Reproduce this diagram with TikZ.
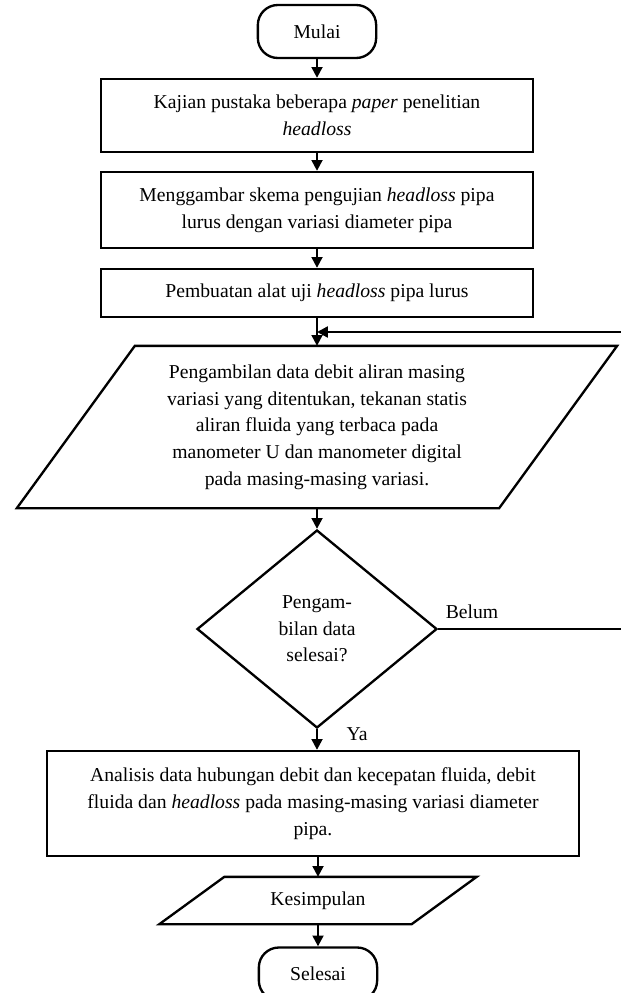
\documentclass[tikz,border=0pt]{standalone}
\usepackage{fontspec}
\setmainfont{Liberation Serif}
\usetikzlibrary{shapes.geometric, arrows.meta}

\tikzset{
    terminal/.style={draw, rounded corners=12pt, minimum width=71pt, minimum height=31.8pt, inner sep=0pt},
    proses/.style={draw, align=center, inner sep=0pt},
    masukan/.style={align=center, inner sep=0pt},
    keputusan/.style={draw, diamond, align=center, inner sep=0pt, minimum width=144pt, minimum height=118.8pt},
    panah/.style={-{Triangle[length=6.5pt, width=6.5pt]}},
}

\begin{document}
\begin{tikzpicture}[x=0.6pt, y=-0.6pt, line width=1.4pt, font=\fontsize{11.8}{16}\selectfont]
    \useasboundingbox (0,0) rectangle (621,993);

    % draw start and process boxes
    \node[terminal] (mulai) at (317,31.5) {Mulai};
    \node[proses, minimum width=259.2pt, minimum height=43.8pt] (kajian) at (317,115.5)
        {Kajian pustaka beberapa \emph{paper} penelitian\\ \emph{headloss}};
    \node[proses, minimum width=259.2pt, minimum height=45.6pt] (skema) at (317,210)
        {Menggambar skema pengujian \emph{headloss} pipa\\ lurus dengan variasi diameter pipa};
    \node[proses, minimum width=259.2pt, minimum height=28.8pt] (alat) at (317,293)
        {Pembuatan alat uji \emph{headloss} pipa lurus};

    % draw data input parallelogram
    \node[masukan, minimum width=288pt, minimum height=96pt] (data) at (317,427)
        {Pengambilan data debit aliran masing\\ variasi yang ditentukan, tekanan statis\\
         aliran fluida yang terbaca pada\\ manometer U dan manometer digital\\
         pada masing-masing variasi.};
    \draw ([xshift=35.4pt]data.north west) -- ([xshift=35.4pt]data.north east)
        -- ([xshift=-35.4pt]data.south east) -- ([xshift=-35.4pt]data.south west) -- cycle;

    % draw decision
    \node[keputusan] (cek) at (317,629) {Pengam-\\ bilan data\\ selesai?};

    % draw analysis box
    \node[proses, minimum width=319.2pt, minimum height=63pt] (analisis) at (313,803.5)
        {Analisis data hubungan debit dan kecepatan fluida, debit\\
         fluida dan \emph{headloss} pada masing-masing variasi diameter\\ pipa.};

    % draw conclusion parallelogram and end
    \node[masukan, minimum width=150pt, minimum height=27pt] (kesimpulan) at (318,900.5) {Kesimpulan};
    \draw ([xshift=19.5pt]kesimpulan.north west) -- ([xshift=19.5pt]kesimpulan.north east)
        -- ([xshift=-19.5pt]kesimpulan.south east) -- ([xshift=-19.5pt]kesimpulan.south west) -- cycle;
    \node[terminal] (selesai) at (318,974) {Selesai};

    % draw labels
    \node (belum) at (472,612) {Belum};
    \node (ya) at (357,734) {Ya};

    % draw arrows
    \draw[panah] (mulai.south) -- (kajian.north);
    \draw[panah] (kajian.south) -- (skema.north);
    \draw[panah] (skema.south) -- (alat.north);
    \draw[panah] (alat.south) -- (data.north);
    \draw[panah] (data.south) -- (cek.north);
    \draw[panah] (cek.south) -- (cek.south |- analisis.north);
    \draw[panah] (analisis.south -| kesimpulan.north) -- (kesimpulan.north);
    \draw[panah] (kesimpulan.south) -- (selesai.north);

    % draw loop back
    \coordinate (kanan) at (624,332);
    \draw[panah] (cek.east) -- (cek.east -| kanan) -- (kanan) -- (kanan -| alat.south);

\end{tikzpicture}
\end{document}
